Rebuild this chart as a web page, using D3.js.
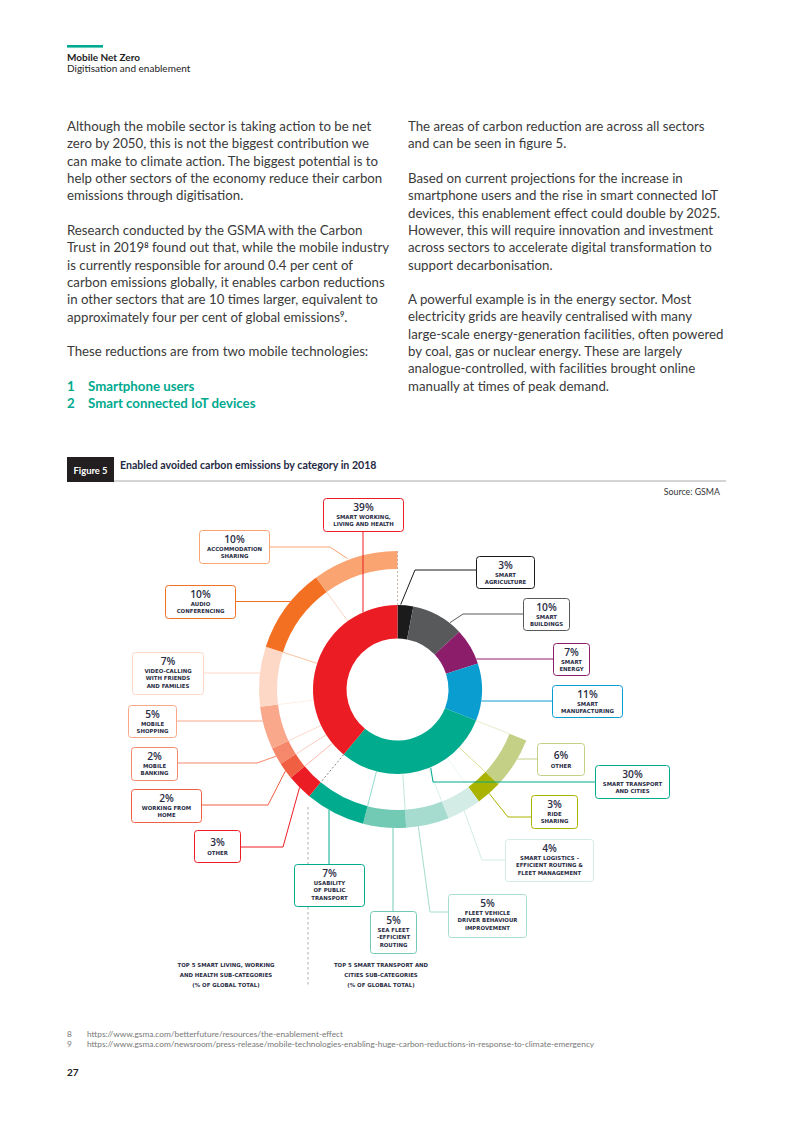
<!DOCTYPE html>
<html lang="en">
<head>
<meta charset="UTF-8">
<title>Enabled avoided carbon emissions by category in 2018</title>
<script src="https://d3js.org/d3.v7.min.js"></script>
<style>
  body { margin: 0; background: #fff; }
  svg { display: block; }
  .body-text { font-family: Lato, sans-serif; font-size: 13.25px; fill: #3a3a3a; }
  .box-pct { font-family: "Open Sans", sans-serif; font-weight: 600; font-size: 10.2px; fill: #2a2d45; text-anchor: middle; }
  .box-lbl { font-family: "DejaVu Sans", sans-serif; font-weight: bold; font-size: 5.4px; fill: #2a2d45; text-anchor: middle; }
</style>
</head>
<body>
<script>
// ---- data ----
const categories = ['Smart agriculture', 'Smart buildings', 'Smart energy', 'Smart manufacturing',
  'Smart transport and cities', 'Smart working, living and health'];
const categoryShares = [3, 10, 7, 11, 30, 39];
const categoryLabels = [['SMART', 'AGRICULTURE'], ['SMART', 'BUILDINGS'], ['SMART', 'ENERGY'],
  ['SMART', 'MANUFACTURING'], ['SMART TRANSPORT', 'AND CITIES'], ['SMART WORKING,', 'LIVING AND HEALTH']];

const transportSubs = ['Other', 'Ride sharing', 'Smart logistics', 'Fleet vehicle driver behaviour',
  'Sea fleet routing', 'Usability of public transport'];
const transportShares = [6, 3, 4, 5, 5, 7];
const transportLabels = [['OTHER'], ['RIDE', 'SHARING'], ['SMART LOGISTICS -', 'EFFICIENT ROUTING &', 'FLEET MANAGEMENT'],
  ['FLEET VEHICLE', 'DRIVER BEHAVIOUR', 'IMPROVEMENT'], ['SEA FLEET', '-EFFICIENT', 'ROUTING'],
  ['USABILITY', 'OF PUBLIC', 'TRANSPORT']];

const livingSubs = ['Other', 'Working from home', 'Mobile banking', 'Mobile shopping',
  'Video-calling', 'Audio conferencing', 'Accommodation sharing'];
const livingShares = [3, 2, 2, 5, 7, 10, 10];
const livingLabels = [['OTHER'], ['WORKING FROM', 'HOME'], ['MOBILE', 'BANKING'], ['MOBILE', 'SHOPPING'],
  ['VIDEO-CALLING', 'WITH FRIENDS', 'AND FAMILIES'], ['AUDIO', 'CONFERENCING'], ['ACCOMMODATION', 'SHARING']];

// ---- colours ----
const categoryColors = ['#1b1b1b', '#58595b', '#8c1d6b', '#0a9dd0', '#00ab8e', '#ec1c24'];
const transportColors = ['#c4d086', '#aab300', '#d3ede6', '#a6dccf', '#72c9b4', '#00ab8e'];
const livingColors = ['#ec1c24', '#f15f43', '#f5876b', '#f9a88c', '#fdd8c6', '#f37022', '#faa471'];

// ---- label box layout ----
const categoryBoxes = [
  { x: 476, y: 556, w: 58, h: 32, type: 'elbow', t: 0.2, r: 85, ex: 415, ey: 570 },
  { x: 523, y: 598, w: 46, h: 32, type: 'elbow', t: 0.76, r: 85, ex: 463, ey: 614 },
  { x: 553, y: 643, w: 36, h: 32, type: 'h' },
  { x: 552, y: 685, w: 70, h: 32, type: 'h' },
  { x: 595, y: 765, w: 74, h: 33, type: 'elbow', t: 0.42, r: 85, ex: 433, ey: 782 },
  { x: 323, y: 498, w: 80, h: 33, type: 'v' }
];
const transportBoxes = [
  { x: 537, y: 743, w: 47, h: 32, type: 'h' },
  { x: 531, y: 795, w: 46, h: 33, type: 'elbow', t: 0.5, ex: 508, ey: 817 },
  { x: 505, y: 839, w: 88, h: 42, type: 'elbow', t: 0.5, ex: 482, ey: 860 },
  { x: 448, y: 894, w: 78, h: 43, type: 'elbow', t: 0.72, ex: 430, ey: 912 },
  { x: 370, y: 911, w: 46, h: 42, type: 'v' },
  { x: 294, y: 864, w: 70, h: 42, type: 'v' }
];
const livingBoxes = [
  { x: 194, y: 830, w: 46, h: 32, type: 'elbow', t: 0.5, ex: 283, ey: 847 },
  { x: 131, y: 789, w: 70, h: 33, type: 'elbow', t: 0.5, ex: 268, ey: 805 },
  { x: 131, y: 747, w: 46, h: 33, type: 'elbow', t: 0.5, ex: 257, ey: 763 },
  { x: 128, y: 705, w: 48, h: 32, type: 'h' },
  { x: 132, y: 652, w: 71, h: 42, type: 'h' },
  { x: 165, y: 585, w: 70, h: 33, type: 'h' },
  { x: 199, y: 530, w: 70, h: 33, type: 'elbow', t: 0.42, r: 140, ex: 330, ey: 547 }
];

const W = 793, H = 1122;
const svg = d3.select('body').append('svg').attr('width', W).attr('height', H);
svg.append('rect').attr('width', W).attr('height', H).attr('fill', '#fff');

// ---- page header ----
svg.append('rect').attr('x', 67).attr('y', 45).attr('width', 36).attr('height', 2.6).attr('fill', '#00a98f');
svg.append('text').attr('x', 67).attr('y', 61).text('Mobile Net Zero')
  .style('font-family', 'Lato, sans-serif').style('font-weight', 'bold').style('font-size', '10px').attr('fill', '#222');
svg.append('text').attr('x', 67).attr('y', 71.5).text('Digitisation and enablement')
  .style('font-family', 'Lato, sans-serif').style('font-size', '10px').attr('fill', '#222');

// ---- body text ----
// each line is a list of parts: plain strings, or {s, sup} for superscript footnote marks
function para(x, ys, lines) {
  lines.forEach((ln, i) => {
    const t = svg.append('text').attr('class', 'body-text').attr('x', x).attr('y', ys[i]);
    let raised = false;
    ln.forEach(part => {
      const isSup = typeof part === 'object' && part.sup === true;
      const s = t.append('tspan').text(typeof part === 'object' ? part.s : part);
      if (isSup) {
        s.attr('dy', -4.5).style('font-size', '7.5px').style('font-weight', 'bold');
        raised = true;
      } else if (raised) {
        s.attr('dy', 4.5);
        raised = false;
      }
    });
  });
}
const step = 17.3;
const seq = (y0, n) => d3.range(n).map(i => y0 + i * step);

para(67, seq(131, 5), [
  ['Although the mobile sector is taking action to be net'],
  ['zero by 2050, this is not the biggest contribution we'],
  ['can make to climate action. The biggest potential is to'],
  ['help other sectors of the economy reduce their carbon'],
  ['emissions through digitisation.']
]);
para(67, seq(235, 6), [
  ['Research conducted by the GSMA with the Carbon'],
  ['Trust in 2019', { s: '8', sup: true }, ' found out that, while the mobile industry'],
  ['is currently responsible for around 0.4 per cent of'],
  ['carbon emissions globally, it enables carbon reductions'],
  ['in other sectors that are 10 times larger, equivalent to'],
  ['approximately four per cent of global emissions', { s: '9', sup: true }, '.']
]);
para(67, [355.5], [['These reductions are from two mobile technologies:']]);

[['1', 'Smartphone users', 391], ['2', 'Smart connected IoT devices', 408]].forEach(d => {
  svg.append('text').attr('class', 'body-text').attr('x', 67).attr('y', d[2]).text(d[0])
    .style('font-weight', 'bold').style('fill', '#00a98f');
  svg.append('text').attr('class', 'body-text').attr('x', 88).attr('y', d[2]).text(d[1])
    .style('font-weight', 'bold').style('fill', '#00a98f');
});

para(408, seq(131, 2), [
  ['The areas of carbon reduction are across all sectors'],
  ['and can be seen in figure 5.']
]);
para(408, seq(183, 6), [
  ['Based on current projections for the increase in'],
  ['smartphone users and the rise in smart connected IoT'],
  ['devices, this enablement effect could double by 2025.'],
  ['However, this will require innovation and investment'],
  ['across sectors to accelerate digital transformation to'],
  ['support decarbonisation.']
]);
para(408, seq(304, 6), [
  ['A powerful example is in the energy sector. Most'],
  ['electricity grids are heavily centralised with many'],
  ['large-scale energy-generation facilities, often powered'],
  ['by coal, gas or nuclear energy. These are largely'],
  ['analogue-controlled, with facilities brought online'],
  ['manually at times of peak demand.']
]);

// ---- figure header ----
svg.append('line').attr('x1', 67).attr('x2', 726).attr('y1', 481).attr('y2', 481)
  .attr('stroke', '#a7a9ac').attr('stroke-width', 1.2);
svg.append('rect').attr('x', 67).attr('y', 457).attr('width', 47).attr('height', 25).attr('fill', '#231f20');
svg.append('text').attr('x', 90.5).attr('y', 473.5).attr('text-anchor', 'middle').text('Figure 5')
  .style('font-family', 'Lato, sans-serif').style('font-weight', 'bold').style('font-size', '9.4px').attr('fill', '#fff');
svg.append('text').attr('x', 120).attr('y', 468.5).text('Enabled avoided carbon emissions by category in 2018')
  .style('font-family', 'Lato, sans-serif').style('font-weight', 'bold').style('font-size', '10.6px').attr('fill', '#1f2a44');
svg.append('text').attr('x', 720).attr('y', 495).attr('text-anchor', 'end').text('Source: GSMA')
  .style('font-family', 'Lato, sans-serif').style('font-size', '8.8px').attr('fill', '#333');

// ---- chart ----
const cx = 397.5, cy = 689.5;
const inner = { r0: 51, r1: 84.5 }, outer = { r0: 120.5, r1: 138.5 };
const angle = d3.scaleLinear().domain([0, d3.sum(categoryShares)]).range([0, 2 * Math.PI]);
const g = svg.append('g').attr('transform', `translate(${cx},${cy})`);

function spans(shares, offset) {
  const ends = d3.cumsum(shares);
  return shares.map((v, i) => ({ v, a0: offset + ends[i] - v, a1: offset + ends[i] }));
}
const catSpans = spans(categoryShares, 0);
const transportSpans = spans(transportShares, catSpans[4].a0);
const livingSpans = spans(livingShares, catSpans[5].a0);

const arcIn = d3.arc().innerRadius(inner.r0).outerRadius(inner.r1)
  .startAngle(d => angle(d.a0)).endAngle(d => angle(d.a1));
const arcOut = d3.arc().innerRadius(outer.r0).outerRadius(outer.r1)
  .startAngle(d => angle(d.a0)).endAngle(d => angle(d.a1));

const polar = (v, r) => [r * Math.sin(angle(v)), -r * Math.cos(angle(v))];

// faint radial separators in the gap
const seps = [];
transportSpans.forEach((d, i) => seps.push({ v: d.a0, c: transportColors[i] }));
livingSpans.forEach((d, i) => { if (i > 0) seps.push({ v: d.a0, c: livingColors[i] }); });
g.selectAll('.sep').data(seps).enter().append('line')
  .attr('x1', d => polar(d.v, inner.r1)[0]).attr('y1', d => polar(d.v, inner.r1)[1])
  .attr('x2', d => polar(d.v, outer.r0)[0]).attr('y2', d => polar(d.v, outer.r0)[1])
  .attr('stroke', d => d.c).attr('stroke-opacity', 0.55).attr('stroke-width', 0.8);

g.selectAll('.in').data(catSpans).enter().append('path')
  .attr('d', arcIn).attr('fill', (d, i) => categoryColors[i]);
g.selectAll('.out-t').data(transportSpans).enter().append('path')
  .attr('d', arcOut).attr('fill', (d, i) => transportColors[i]);
g.selectAll('.out-l').data(livingSpans).enter().append('path')
  .attr('d', arcOut).attr('fill', (d, i) => livingColors[i]);

// dashed dividers between the two groups
[[0, inner.r1, outer.r1, '#b9a193'], [catSpans[5].a0, inner.r1, outer.r0, '#666']].forEach(([v, ra, rb, c]) => {
  g.append('line')
    .attr('x1', polar(v, ra)[0]).attr('y1', polar(v, ra)[1])
    .attr('x2', polar(v, rb)[0]).attr('y2', polar(v, rb)[1])
    .attr('stroke', c).attr('stroke-width', 0.8).attr('stroke-dasharray', '2,2');
});
g.append('line').attr('x1', -89.5).attr('x2', -89.5).attr('y1', 117.5).attr('y2', 296)
  .attr('stroke', '#999').attr('stroke-width', 0.8).attr('stroke-dasharray', '2.5,2.5');

// ---- leaders and label boxes ----
function drawLabels(spanList, shares, labels, colors, boxes, ring) {
  spanList.forEach((s, i) => {
    const b = boxes[i], col = colors[i];
    const rr = b.r || ring.r1;
    let pts;
    if (b.type === 'h') {
      const y = b.y + b.h / 2;
      const dy = y - cy;
      const side = b.x > cx ? 1 : -1;
      const x = cx + side * Math.sqrt(rr * rr - dy * dy);
      pts = [[x, y], [side > 0 ? b.x : b.x + b.w, y]];
    } else if (b.type === 'v') {
      const x = b.x + b.w / 2;
      const dx = x - cx;
      const side = b.y > cy ? 1 : -1;
      const y = cy + side * Math.sqrt(rr * rr - dx * dx);
      pts = [[x, y], [x, side > 0 ? b.y : b.y + b.h]];
    } else {
      const p = polar(s.a0 + b.t * s.v, rr);
      pts = [[cx + p[0], cy + p[1]], [b.ex, b.ey], [b.ex < b.x ? b.x : b.x + b.w, b.ey]];
    }
    svg.append('path').attr('d', d3.line()(pts)).attr('fill', 'none')
      .attr('stroke', col).attr('stroke-width', 1);

    const bg = svg.append('g').attr('transform', `translate(${b.x},${b.y})`);
    bg.append('rect').attr('x', 0.5).attr('y', 0.5).attr('width', b.w).attr('height', b.h)
      .attr('rx', 3).attr('fill', '#fff').attr('stroke', col).attr('stroke-width', 1);
    const lines = labels[i];
    const pctY = lines.length === 1 ? 16 : 13;
    bg.append('text').attr('class', 'box-pct').attr('x', b.w / 2 + 0.5).attr('y', pctY).text(shares[i] + '%');
    lines.forEach((ln, k) => {
      bg.append('text').attr('class', 'box-lbl').attr('x', b.w / 2 + 0.5)
        .attr('y', (lines.length === 1 ? 25 : 20.5) + k * 7.6).text(ln);
    });
  });
}
drawLabels(catSpans, categoryShares, categoryLabels, categoryColors, categoryBoxes, inner);
drawLabels(transportSpans, transportShares, transportLabels, transportColors, transportBoxes, outer);
drawLabels(livingSpans, livingShares, livingLabels, livingColors, livingBoxes, outer);

// ---- group captions ----
const captions = [
  [226, ['TOP 5 SMART LIVING, WORKING', 'AND HEALTH SUB-CATEGORIES', '(% OF GLOBAL TOTAL)']],
  [381, ['TOP 5 SMART TRANSPORT AND', 'CITIES SUB-CATEGORIES', '(% OF GLOBAL TOTAL)']]
];
captions.forEach(([x, lines]) => {
  lines.forEach((ln, k) => {
    svg.append('text').attr('class', 'box-lbl').attr('x', x).attr('y', 967 + k * 10).text(ln);
  });
});

// ---- footnotes ----
const notes = [['8', 'https://www.gsma.com/betterfuture/resources/the-enablement-effect'],
  ['9', 'https://www.gsma.com/newsroom/press-release/mobile-technologies-enabling-huge-carbon-reductions-in-response-to-climate-emergency']];
notes.forEach((n, i) => {
  const y = 1036.5 + i * 10.5;
  svg.append('text').attr('x', 67).attr('y', y).text(n[0])
    .style('font-family', 'Lato, sans-serif').style('font-size', '8.3px').attr('fill', '#777');
  svg.append('text').attr('x', 87).attr('y', y).text(n[1])
    .style('font-family', 'Lato, sans-serif').style('font-size', '8.3px').attr('fill', '#777');
});
svg.append('text').attr('x', 67).attr('y', 1076).text('27')
  .style('font-family', 'Lato, sans-serif').style('font-weight', 'bold').style('font-size', '10px').attr('fill', '#222');
</script>
</body>
</html>
